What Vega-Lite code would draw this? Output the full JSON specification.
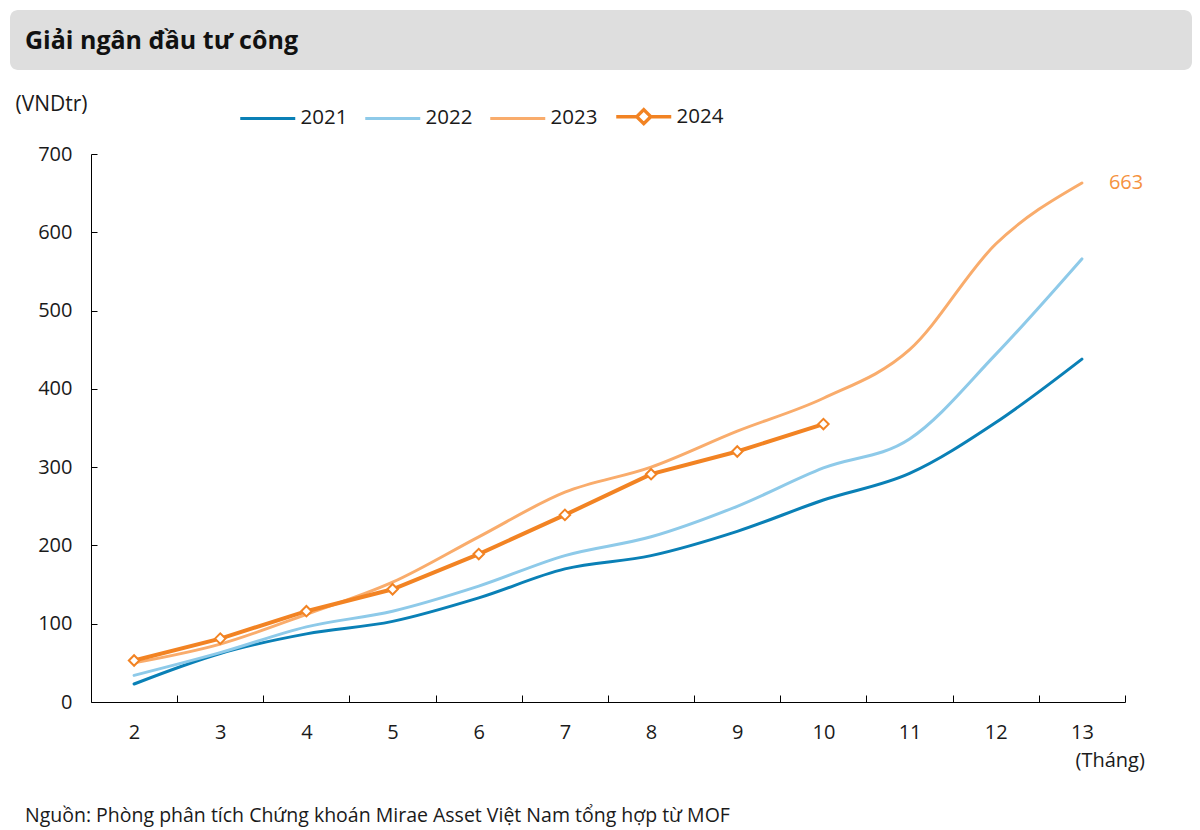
{
  "$schema": "https://vega.github.io/schema/vega-lite/v6.json",
  "padding": {"left": 10, "top": 10, "right": 8, "bottom": 2},
  "background": "white",
  "spacing": 23,
  "config": {
    "font": "Open Sans",
    "view": {"stroke": null},
    "axis": {"domainColor": "#000", "tickColor": "#000", "labelColor": "#1a1a1a", "titleColor": "#1a1a1a", "labelFontSize": 20, "titleFontSize": 20, "titleFontWeight": "normal", "grid": false}
  },
  "vconcat": [
    {
      "width": 1101,
      "height": 60,
      "data": {"values": [{"x0": 0, "x1": 1182}]},
      "mark": {"type": "rect", "color": "#dedede", "cornerRadius": 8, "clip": false},
      "encoding": {
        "x": {"field": "x0", "type": "quantitative", "scale": {"domain": [81, 1182], "nice": false, "zero": false}, "axis": null},
        "x2": {"field": "x1"}
      },
      "title": {"text": "Giải ngân đầu tư công", "anchor": "start", "frame": "group", "offset": -64, "dx": -66, "baseline": "alphabetic", "fontSize": 25, "fontWeight": "bold", "color": "#111"}
    },
    {
      "width": 1034,
      "height": 548,
      "title": {"text": "Nguồn: Phòng phân tích Chứng khoán Mirae Asset Việt Nam tổng hợp từ MOF", "orient": "bottom", "anchor": "start", "frame": "group", "dx": -66, "offset": 37, "fontSize": 19.5, "fontWeight": "normal", "color": "#1a1a1a"},
      "data": {"values": [
        {"m": 2, "year": "2021", "v": 23}, {"m": 3, "year": "2021", "v": 62}, {"m": 4, "year": "2021", "v": 87}, {"m": 5, "year": "2021", "v": 103}, {"m": 6, "year": "2021", "v": 133}, {"m": 7, "year": "2021", "v": 170}, {"m": 8, "year": "2021", "v": 187}, {"m": 9, "year": "2021", "v": 218}, {"m": 10, "year": "2021", "v": 258}, {"m": 11, "year": "2021", "v": 292}, {"m": 12, "year": "2021", "v": 357}, {"m": 13, "year": "2021", "v": 438},
        {"m": 2, "year": "2022", "v": 34}, {"m": 3, "year": "2022", "v": 63}, {"m": 4, "year": "2022", "v": 96}, {"m": 5, "year": "2022", "v": 116}, {"m": 6, "year": "2022", "v": 148}, {"m": 7, "year": "2022", "v": 187}, {"m": 8, "year": "2022", "v": 211}, {"m": 9, "year": "2022", "v": 250}, {"m": 10, "year": "2022", "v": 299}, {"m": 11, "year": "2022", "v": 336}, {"m": 12, "year": "2022", "v": 444}, {"m": 13, "year": "2022", "v": 566},
        {"m": 2, "year": "2023", "v": 50}, {"m": 3, "year": "2023", "v": 74}, {"m": 4, "year": "2023", "v": 112}, {"m": 5, "year": "2023", "v": 153}, {"m": 6, "year": "2023", "v": 211}, {"m": 7, "year": "2023", "v": 268}, {"m": 8, "year": "2023", "v": 300}, {"m": 9, "year": "2023", "v": 346}, {"m": 10, "year": "2023", "v": 388}, {"m": 11, "year": "2023", "v": 450}, {"m": 12, "year": "2023", "v": 585}, {"m": 13, "year": "2023", "v": 663},
        {"m": 2, "year": "2024", "v": 53}, {"m": 3, "year": "2024", "v": 81}, {"m": 4, "year": "2024", "v": 116}, {"m": 5, "year": "2024", "v": 144}, {"m": 6, "year": "2024", "v": 189}, {"m": 7, "year": "2024", "v": 239}, {"m": 8, "year": "2024", "v": 291}, {"m": 9, "year": "2024", "v": 320}, {"m": 10, "year": "2024", "v": 355}
      ]},
      "encoding": {
        "x": {"field": "m", "type": "quantitative",
          "scale": {"domain": [1.5, 13.5], "nice": false, "zero": false},
          "axis": {"values": [2,3,4,5,6,7,8,9,10,11,12,13], "tickOffset": 43.08, "labelOffset": -43.08, "tickSize": -7, "labelPadding": 27, "labelFlush": false, "title": "(Tháng)", "titleX": 984, "titleY": 58, "titleAlign": "left", "titleBaseline": "middle"}},
        "y": {"field": "v", "type": "quantitative",
          "scale": {"domain": [0, 700], "nice": false},
          "axis": {"values": [0,100,200,300,400,500,600,700], "tickSize": -6, "labelPadding": 25, "title": "(VNDtr)", "titleFontSize": 21, "titleAngle": 0, "titleX": -76, "titleY": -50, "titleAlign": "left", "titleBaseline": "middle"}},
        "color": {"field": "year", "type": "nominal",
          "scale": {"domain": ["2021", "2022", "2023", "2024"], "range": ["#0a80b6", "#8ecae9", "#f9ac6c", "#f28323"]},
          "legend": {"orient": "none", "legendX": 149, "legendY": 96, "direction": "horizontal", "title": null, "symbolType": "stroke", "symbolSize": 400, "symbolStrokeWidth": 3, "labelFontSize": 20.5, "labelColor": "#1a1a1a", "labelOffset": 40, "columnPadding": 11,
            "encode": {"symbols": {"update": {
              "shape": {"signal": "datum.value == '2024' ? 'M-1,0L1.05,0M2.45,0L4.5,0M1.05,0L1.75,-0.7L2.45,0L1.75,0.7Z' : 'M-1,0L4.5,0'"},
              "fill": {"signal": "datum.value == '2024' ? 'white' : 'transparent'"},
              "strokeWidth": {"signal": "datum.value == '2024' ? 3.5 : 3"}}}}}}
      },
      "layer": [
        {"transform": [{"filter": "datum.year != '2024'"}],
         "mark": {"type": "line", "interpolate": "monotone", "strokeWidth": 3, "strokeCap": "round"}},
        {"transform": [{"filter": "datum.year == '2024'"}],
         "mark": {"type": "line", "strokeWidth": 4, "point": {"filled": false, "fill": "white", "shape": "diamond", "size": 110, "strokeWidth": 2, "opacity": 1}}},
        {"transform": [{"filter": "datum.year == '2023' && datum.m == 13"}],
         "mark": {"type": "text", "align": "left", "dx": 27, "fontSize": 20, "color": "#f5923e"},
         "encoding": {"text": {"field": "v", "type": "quantitative"}, "color": {"value": "#f5923e"}}}
      ]
    }
  ]
}
